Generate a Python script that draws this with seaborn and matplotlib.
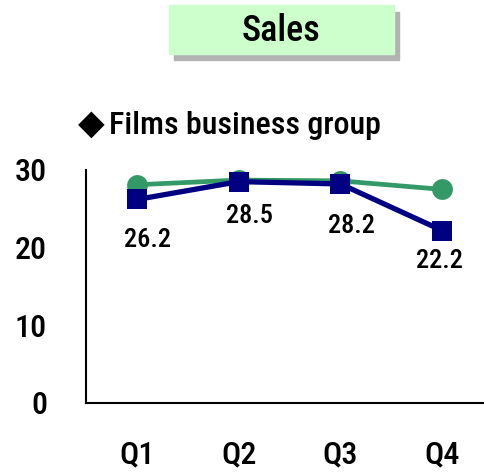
import pandas as pd
import matplotlib
matplotlib.use("Agg")
import matplotlib.pyplot as plt
import seaborn as sns
from matplotlib.patches import Rectangle

# chart data
quarters = ["Q1", "Q2", "Q3", "Q4"]
sales_actual = [26.2, 28.5, 28.2, 22.2]
sales_ref = [28.1, 28.7, 28.6, 27.5]
y_ticks = [0, 10, 20, 30]

# label offsets in points (styling only)
label_dx = [8, 8, 8, -2]
label_dy = [-29, -25, -30, -22]

def main():
    sns.set_theme(style="white")
    plt.rcParams['font.family'] = ['Roboto Condensed', 'DejaVu Sans']

    df = pd.DataFrame({"quarter": quarters, "actual": sales_actual, "ref": sales_ref})

    fig = plt.figure(figsize=(4.85, 4.74), dpi=100)
    ax = fig.add_axes([0.1773, 0.1498, 0.8227, 0.4916])

    sns.lineplot(data=df, x="quarter", y="ref", ax=ax, sort=False, color="#339966",
                 linewidth=3.4, marker="o", markersize=15, markeredgewidth=0)
    sns.lineplot(data=df, x="quarter", y="actual", ax=ax, sort=False, color="#000080",
                 linewidth=3.8, marker="s", markersize=14, markeredgewidth=0)

    for i, v in enumerate(sales_actual):
        ax.annotate(f"{v:.1f}", (i, v), xytext=(label_dx[i], label_dy[i]),
                    textcoords="offset points", ha="center", va="center",
                    fontsize=19, fontweight="medium", color="black")

    ax.set_xlim(-0.5, 3.42)
    ax.set_ylim(0, 30)
    ax.set_yticks(y_ticks)
    ax.set_yticklabels([str(t) for t in y_ticks], fontsize=23, fontweight="medium", color="black")
    ax.set_xticks(range(len(quarters)))
    ax.set_xticklabels(quarters, fontsize=23, fontweight="medium", color="black")
    ax.tick_params(axis="y", length=0, pad=28)
    ax.tick_params(axis="x", length=0, pad=27)
    ax.set_xlabel("")
    ax.set_ylabel("")
    sns.despine(ax=ax)
    for s in ["left", "bottom"]:
        ax.spines[s].set_color("black")
        ax.spines[s].set_linewidth(1.5)
    ax.patch.set_alpha(0)

    # title box with shadow
    fig.patches.append(Rectangle((174 / 485, 1 - 60 / 474), 225 / 485, 48 / 474,
                                 transform=fig.transFigure, color="#b2b2b2", zorder=0))
    fig.patches.append(Rectangle((169 / 485, 1 - 54 / 474), 225 / 485, 49 / 474,
                                 transform=fig.transFigure, color="#ccffcc", zorder=1))
    fig.text(281 / 485, 1 - 31 / 474, "Sales", ha="center", va="center",
             fontsize=26, fontweight="medium", color="black")

    fig.text(78 / 485, 1 - 124 / 474, "◆", ha="left", va="center",
             fontsize=25, family="DejaVu Sans", color="black")
    fig.text(109 / 485, 1 - 126 / 474, "Films business group", ha="left", va="center",
             fontsize=23, fontweight="medium", color="black")

    fig.savefig("out.png", dpi=100)

if __name__ == "__main__":
    main()
